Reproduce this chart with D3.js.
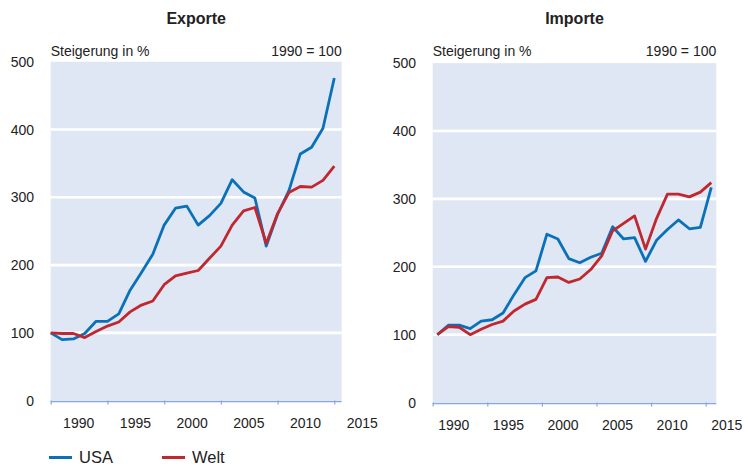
<!DOCTYPE html>
<html>
<head>
<meta charset="utf-8">
<script src="https://cdn.jsdelivr.net/npm/d3@7"></script>
<style>
  body { margin: 0; background: #fff; }
  text { font-family: "Liberation Sans", Arial, sans-serif; fill: #222; }
</style>
</head>
<body>
<div id="chart"></div>
<script>
// years shown in both panels (1990 = 100)
var years = d3.range(1990, 2016);

// Exporte, index values
var usaExports = [100, 90, 91, 99, 117, 117, 128, 163, 189, 216, 259, 284, 287, 259, 273, 291,
  326, 308, 299, 228, 275, 310, 364, 374, 402, 476];
var weltExports = [100, 99, 99, 93, 102, 110, 116, 131, 141, 147, 171, 184, 188, 192, 210, 228,
  259, 280, 285, 232, 276, 307, 316, 315, 325, 346];

// Importe, index values
var usaImports = [100, 114, 114, 109, 120, 122, 132, 159, 184, 194, 248, 241, 212, 206, 214, 220,
  259, 241, 243, 208, 239, 255, 269, 256, 258, 317];
var weltImports = [100, 112, 111, 100, 108, 115, 120, 135, 145, 152, 184, 185, 177, 182, 196, 216,
  253, 264, 275, 226, 271, 307, 307, 303, 310, 324];

var yTicks = [0, 100, 200, 300, 400, 500];
var gridValues = [100, 200, 300, 400];
var xTickYears = [1990, 1995, 2000, 2005, 2010, 2015];

var seriesNames = ["USA", "Welt"];
var colors = { USA: "#0a71b9", Welt: "#c0272f" };

var svgWidth = 748;
var svgHeight = 468;

var svg = d3.select("#chart")
  .append("svg")
  .attr("width", svgWidth)
  .attr("height", svgHeight);

//panel layout: plot box, where the data sits and where the ticks sit
var panels = [
  {
    title: "Exporte",
    usa: usaExports, welt: weltExports,
    left: 50.7, right: 341.7, top: 61.8, bottom: 400.6,
    dataRange: [50.7, 334.3], tickRange: [50.7, 334.3], labelShift: 27.5,
    yLabelX: 34
  },
  {
    title: "Importe",
    usa: usaImports, welt: weltImports,
    left: 432.7, right: 716.3, top: 63.1, bottom: 402.6,
    dataRange: [437.3, 711.3], tickRange: [432.7, 705.7], labelShift: 20.6,
    yLabelX: 416
  }
];

panels.forEach(function (p) {
  var g = svg.append("g");

  var x = d3.scaleLinear().domain([1990, 2015]).range(p.dataRange);
  var xTickScale = d3.scaleLinear().domain([1990, 2015]).range(p.tickRange);
  var y = d3.scaleLinear().domain([0, 500]).range([p.bottom, p.top]);

  // background
  g.append("rect")
    .attr("x", p.left)
    .attr("y", p.top)
    .attr("width", p.right - p.left)
    .attr("height", p.bottom + 1 - p.top)
    .attr("fill", "#e0e7f4");

  // white gridlines
  g.selectAll(".grid")
    .data(gridValues)
    .enter()
    .append("line")
    .attr("x1", p.left)
    .attr("x2", p.right)
    .attr("y1", (d) => y(d))
    .attr("y2", (d) => y(d))
    .attr("stroke", "#fff")
    .attr("stroke-width", 2.6);

  // title and subtitles
  g.append("text")
    .attr("x", (p.left + p.right) / 2)
    .attr("y", 18.5)
    .attr("dy", "0.35em")
    .attr("text-anchor", "middle")
    .style("font-size", "16px")
    .style("font-weight", "bold")
    .text(p.title);

  g.append("text")
    .attr("x", p.left)
    .attr("y", 51.5)
    .attr("dy", "0.35em")
    .style("font-size", "14px")
    .text("Steigerung in %");

  g.append("text")
    .attr("x", p.right)
    .attr("y", 51.5)
    .attr("dy", "0.35em")
    .attr("text-anchor", "end")
    .style("font-size", "14px")
    .text("1990 = 100");

  // y axis labels
  var yAxis = g.append("g")
    .attr("transform", `translate(${p.yLabelX}, 0)`)
    .call(d3.axisLeft(y).tickValues(yTicks).tickSize(0).tickPadding(0));
  yAxis.select(".domain").remove();
  yAxis.selectAll("text")
    .style("font-size", "14px")
    .style("font-family", "'Liberation Sans', Arial, sans-serif")
    .attr("fill", "#222");

  // x axis: base line, ticks and shifted labels
  g.append("line")
    .attr("x1", p.left)
    .attr("x2", p.right)
    .attr("y1", p.bottom + 1)
    .attr("y2", p.bottom + 1)
    .attr("stroke", "#86a9dd")
    .attr("stroke-width", 1.2);

  var xAxis = g.append("g")
    .attr("transform", `translate(0, ${p.bottom})`)
    .call(d3.axisBottom(xTickScale).tickValues(xTickYears).tickSize(4).tickPadding(0)
      .tickFormat(d3.format("d")));
  xAxis.select(".domain").remove();
  xAxis.selectAll(".tick line").attr("stroke", "#86a9dd").attr("stroke-width", 1.2);
  xAxis.selectAll("text")
    .attr("x", p.labelShift)
    .attr("y", 23)
    .attr("dy", "0.35em")
    .style("font-size", "14px")
    .style("font-family", "'Liberation Sans', Arial, sans-serif")
    .attr("fill", "#222");

  // lines, USA first so Welt sits on top
  var line = d3.line()
    .x((d, i) => x(years[i]))
    .y((d) => y(d));

  [["USA", p.usa], ["Welt", p.welt]].forEach(function (s) {
    g.append("path")
      .datum(s[1])
      .attr("d", line)
      .attr("fill", "none")
      .attr("stroke", colors[s[0]])
      .attr("stroke-width", 2.8)
      .attr("stroke-linejoin", "round");
  });
});

// legend
var legend = svg.append("g").attr("transform", "translate(49, 457.5)");
seriesNames.forEach(function (name, i) {
  var item = legend.append("g").attr("transform", `translate(${i * 113}, 0)`);
  item.append("line")
    .attr("x1", 0)
    .attr("x2", 23)
    .attr("stroke", colors[name])
    .attr("stroke-width", 3);
  item.append("text")
    .attr("x", 30)
    .attr("dy", "0.35em")
    .style("font-size", "16.5px")
    .text(name);
});
</script>
</body>
</html>
